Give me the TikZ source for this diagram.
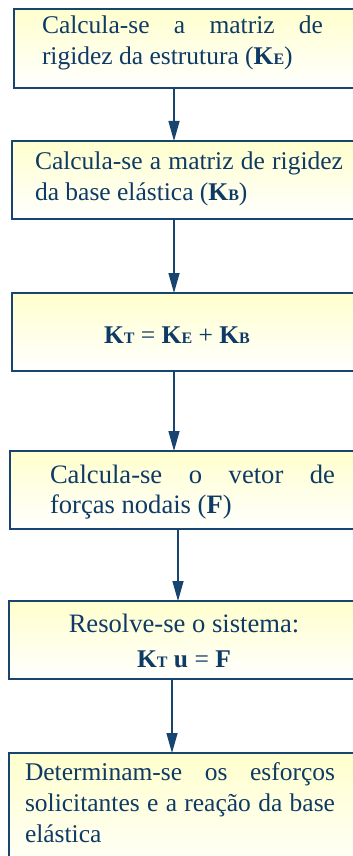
\documentclass[tikz,border=0pt]{standalone}
\usepackage{fontspec}
\setmainfont{Liberation Serif}
\usetikzlibrary{arrows.meta}
\definecolor{txtblue}{RGB}{14,58,102}
\definecolor{edgeblue}{RGB}{24,68,112}
\definecolor{paleyellow}{RGB}{255,255,205}
\newcommand{\Ksub}[1]{\textbf{K}{\fontsize{16}{16}\selectfont\textbf{#1}}}
\tikzset{
  stepbox/.style={draw=edgeblue, line width=2pt, top color=paleyellow, bottom color=white,
    inner sep=0pt, outer sep=0pt, anchor=north west, minimum width=360pt},
  txt/.style={inner sep=0pt, outer sep=0pt, anchor=base west, text=txtblue,
    font=\fontsize{25.5}{31}\selectfont},
  bigtxt/.style={txt, font=\fontsize{26.6}{31}\selectfont},
  ctxt/.style={txt, anchor=base},
  arr/.style={draw=edgeblue, line width=1.5pt, -{Triangle[length=20pt,width=11pt]}}
}
\begin{document}
\begin{tikzpicture}[x=1pt,y=-1pt]
\useasboundingbox (0,0) rectangle (353,856);
\clip (0,0) rectangle (353,856);
\fill[white] (0,0) rectangle (353,856);
% boxes
\node[stepbox, minimum height=79pt] (b1) at (14,9) {};
\node[stepbox, minimum height=78pt] (b2) at (12,141) {};
\node[stepbox, minimum height=78pt] (b3) at (12,293) {};
\node[stepbox, minimum height=78pt] (b4) at (10,451) {};
\node[stepbox, minimum height=78pt] (b5) at (9,601) {};
\node[stepbox, minimum height=130pt] (b6) at (9,753) {};
% texts
\node[txt] (t1a) at (42,34) {\hbox to 281pt{Calcula-se\hfill a\hfill matriz\hfill de}};
\node[txt] (t1b) at (42,65) {rigidez da estrutura (\Ksub{E})};
\node[txt] (t2a) at (35,169) {\hbox to 308pt{Calcula-se a matriz de rigidez}};
\node[txt] (t2b) at (35,200) {da base elástica (\Ksub{B})};
\node[ctxt] (t3) at (177,343) {\Ksub{T} = \Ksub{E} + \Ksub{B}};
\node[bigtxt] (t4a) at (50,483) {\hbox to 285pt{Calcula-se\hfill o\hfill vetor\hfill de}};
\node[bigtxt] (t4b) at (50,513) {forças nodais (\textbf{F})};
\node[bigtxt, anchor=base] (t5a) at (184,632) {Resolve-se o sistema:};
\node[ctxt] (t5b) at (184,667) {\Ksub{T} \textbf{u} = \textbf{F}};
\node[txt] (t6a) at (25,780) {\hbox to 310pt{Determinam-se\hfill os\hfill esforços}};
\node[txt] (t6b) at (25,811) {\hbox to 310pt{solicitantes e a reação da base}};
\node[txt] (t6c) at (25,842) {elástica};
% arrows
\draw[arr] ([xshift=160pt]b1.south west) -- ([xshift=160pt]b1.south west |- b2.north);
\draw[arr] ([xshift=162pt]b2.south west) -- ([xshift=162pt]b2.south west |- b3.north);
\draw[arr] ([xshift=162pt]b3.south west) -- ([xshift=162pt]b3.south west |- b4.north);
\draw[arr] ([xshift=168pt]b4.south west) -- ([xshift=168pt]b4.south west |- b5.north);
\draw[arr] ([xshift=163pt]b5.south west) -- ([xshift=163pt]b5.south west |- b6.north);
\end{tikzpicture}
\end{document}
